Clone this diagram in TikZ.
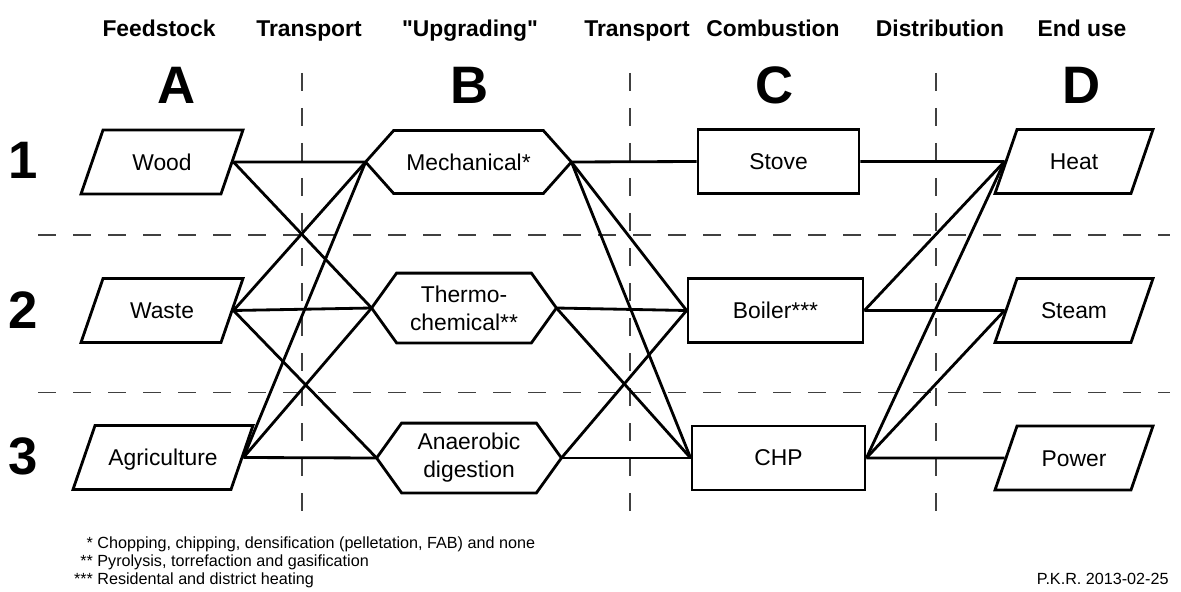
\documentclass[tikz,border=0pt]{standalone}
\usepackage{fontspec}
\setmainfont{Liberation Sans}
\usetikzlibrary{shapes.geometric}
\newcommand\hexbox[2]{
  \draw ([xshift=#2]#1.north west) -- ([xshift=-#2]#1.north east) -- (#1.east) -- ([xshift=-#2]#1.south east) -- ([xshift=#2]#1.south west) -- (#1.west) -- cycle;
}

\begin{document}
\begin{tikzpicture}[line width=1.6pt,
	feed/.style = {draw, trapezium, trapezium left angle=71, trapezium right angle=109, trapezium stretches body=true, text height=9.3pt, text depth=0pt, inner xsep=0pt, inner ysep=13.55pt, minimum height=1.28cm, font=\fontsize{13}{16}\selectfont},
	upgr/.style = {rectangle, inner sep=0pt, align=center, font=\fontsize{13}{16}\selectfont},
	burn/.style = {draw, rectangle, minimum height=1.28cm, inner sep=0pt, font=\fontsize{13}{16}\selectfont},
	head/.style = {anchor=base, font=\bfseries\fontsize{13}{15}\selectfont},
	big/.style = {anchor=base, font=\bfseries\fontsize{30}{34}\selectfont},
	grid/.style = {line width=0.7pt, black!75, dash pattern=on 0.36cm off 0.34cm},
	note/.style = {anchor=base west, inner sep=0pt, font=\fontsize{9.2}{10}\selectfont}]
	\useasboundingbox (0,0) rectangle (23.62,-11.84);
	% grid
	\draw[grid] (6.04,-1.46) -- (6.04,-10.4);
	\draw[grid] (12.6,-1.46) -- (12.6,-10.4);
	\draw[grid] (18.72,-1.46) -- (18.72,-10.4);
	\draw[grid] (0.76,-4.7) -- (23.4,-4.7);
	\draw[grid] (0.76,-7.85) -- (23.4,-7.85);
	% headings
	\node[head] (hfeed) at (3.18,-0.74){Feedstock};
	\node[head] (htra1) at (6.18,-0.74){Transport};
	\node[head] (hupgr) at (9.4,-0.74){\textquotedbl Upgrading\textquotedbl};
	\node[head] (htra2) at (12.74,-0.74){Transport};
	\node[head] (hcomb) at (15.46,-0.74){Combustion};
	\node[head] (hdist) at (18.8,-0.74){Distribution};
	\node[head] (hend) at (21.64,-0.74){End use};
	\node[big] (colA) at (3.54,-2.08){A};
	\node[big] (colB) at (9.4,-2.08){B};
	\node[big] (colC) at (15.5,-2.08){C};
	\node[big] (colD) at (21.64,-2.08){D};
	\node[big] (row1) at (0.46,-3.56){1};
	\node[big] (row2) at (0.46,-6.56){2};
	\node[big] (row3) at (0.46,-9.48){3};
	% boxes
	\node[feed, minimum width=3.24cm] (wood) at (3.24,-3.24){Wood};
	\node[feed, minimum width=3.24cm] (waste) at (3.24,-6.21){Waste};
	\node[feed, minimum width=3.6cm] (agri) at (3.26,-9.15){Agriculture};
	\node[upgr, minimum width=4.06cm, minimum height=1.2cm] (mech) at (9.37,-3.24){Mechanical*};
	\node[upgr, minimum width=3.64cm, minimum height=1.34cm] (thermo) at (9.28,-6.16){Thermo-\\chemical**};
	\node[upgr, minimum width=3.64cm, minimum height=1.34cm] (anaer) at (9.38,-9.16){Anaerobic\\digestion};
	\hexbox{mech}{0.56cm}
	\hexbox{thermo}{0.5cm}
	\hexbox{anaer}{0.5cm}
	\node[burn, minimum width=3.22cm] (stove) at (15.57,-3.23){Stove};
	\node[burn, minimum width=3.5cm] (boiler) at (15.51,-6.21){Boiler***};
	\node[burn, minimum width=3.46cm] (chp) at (15.57,-9.16){CHP};
	\node[feed, minimum width=3.16cm] (heat) at (21.48,-3.23){Heat};
	\node[feed, minimum width=3.16cm] (steam) at (21.48,-6.21){Steam};
	\node[feed, minimum width=3.16cm] (power) at (21.48,-9.16){Power};
	% links
	\draw[-] (wood.east) -- (mech.west);
	\draw[-] (wood.east) -- (thermo.west);
	\draw[-] (waste.east) -- (mech.west);
	\draw[-] (waste.east) -- (thermo.west);
	\draw[-] (waste.east) -- (anaer.west);
	\draw[-] (agri.east) -- (mech.west);
	\draw[-] (agri.east) -- (thermo.west);
	\draw[-] (agri.east) -- (anaer.west);
	\draw[-] (mech.east) -- (stove.west);
	\draw[-] (mech.east) -- (boiler.west);
	\draw[-] (mech.east) -- (chp.west);
	\draw[-] (thermo.east) -- (boiler.west);
	\draw[-] (thermo.east) -- (chp.west);
	\draw[-] (anaer.east) -- (boiler.west);
	\draw[-] (anaer.east) -- (chp.west);
	\draw[-] (stove.east) -- (heat.west);
	\draw[-] (boiler.east) -- (heat.west);
	\draw[-] (boiler.east) -- (steam.west);
	\draw[-] (chp.east) -- (heat.west);
	\draw[-] (chp.east) -- (steam.west);
	\draw[-] (chp.east) -- (power.west);
	% notes
	\node[note] (note1) at (1.92,-10.96){\llap{*\ }Chopping, chipping, densification (pelletation, FAB) and none};
	\node[note] (note2) at (1.92,-11.32){\llap{**\ }Pyrolysis, torrefaction and gasification};
	\node[note] (note3) at (1.92,-11.68){\llap{***\ }Residental and district heating};
	\node[note, anchor=base east] (sign) at (23.4,-11.68){P.K.R. 2013-02-25};
\end{tikzpicture}
\end{document}
